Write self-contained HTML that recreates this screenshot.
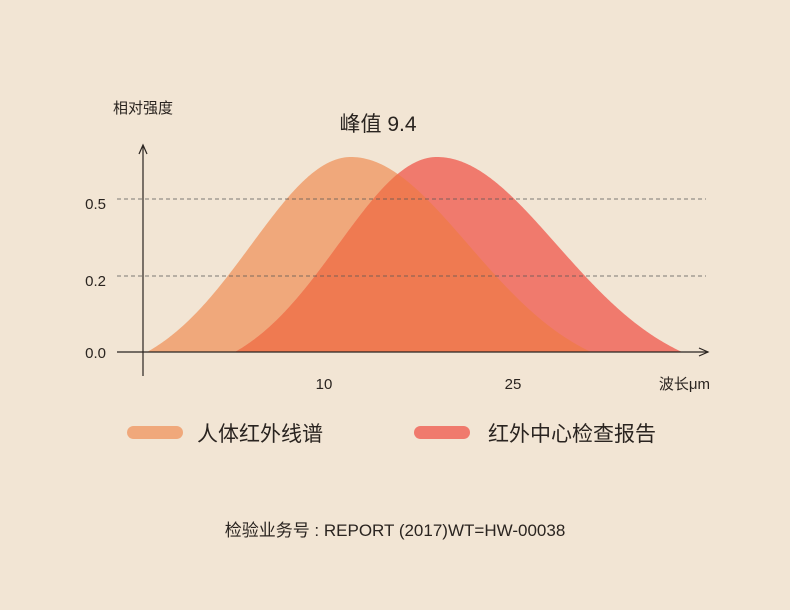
<!DOCTYPE html>
<html><head><meta charset="utf-8"><style>
body{margin:0;background:#F2E5D4;}
svg{display:block}
text{font-family:"Liberation Sans","Noto Sans CJK SC",sans-serif;fill:#2a2420}
</style></head><body>
<svg id="s" width="790" height="610" viewBox="0 0 790 610">
<rect width="790" height="610" fill="#F2E5D4"/>
<path id="o" fill="#F0A87B"/>
<path id="r" fill="#F07A6D"/>
<path id="m" fill="#EF7A51"/>
<line x1="117" y1="199" x2="706" y2="199" stroke="#555" stroke-width="0.8" stroke-dasharray="4,3"/>
<line x1="117" y1="276" x2="706" y2="276" stroke="#555" stroke-width="0.8" stroke-dasharray="4,3"/>
<line x1="143" y1="146" x2="143" y2="376" stroke="#2a2420" stroke-width="1.2"/>
<path d="M139,154 L143,145 L147,154" fill="none" stroke="#2a2420" stroke-width="1.2"/>
<line x1="117" y1="352" x2="708" y2="352" stroke="#2a2420" stroke-width="1.2"/>
<path d="M699,348 L708,352 L699,356" fill="none" stroke="#2a2420" stroke-width="1.2"/>
<text x="113" y="113" font-size="15">相对强度</text>
<text x="378" y="131" font-size="21" text-anchor="middle">峰值 9.4</text>
<text x="106" y="209" font-size="15" text-anchor="end">0.5</text>
<text x="106" y="286" font-size="15" text-anchor="end">0.2</text>
<text x="106" y="358" font-size="15" text-anchor="end">0.0</text>
<text x="324" y="389" font-size="15" text-anchor="middle">10</text>
<text x="513" y="389" font-size="15" text-anchor="middle">25</text>
<text x="710" y="389" font-size="15" text-anchor="end">波长μm</text>
<rect x="127" y="426" width="56" height="13" rx="6.5" fill="#F0A87B"/>
<text x="197" y="441" font-size="21">人体红外线谱</text>
<rect x="414" y="426" width="56" height="13" rx="6.5" fill="#F07A6D"/>
<text x="488" y="441" font-size="21">红外中心检查报告</text>
<text x="395" y="536" font-size="17" text-anchor="middle">检验业务号 : REPORT (2017)WT=HW-00038</text>
</svg>
<script>
var B=352,P=157;
function f(x,c,hl,hr){var d=x-c,h=d<0?hl:hr;if(Math.abs(d)>=h)return B;var s=h/2.05;var k=Math.exp(-Math.pow(h/s,2)/2);var g=(Math.exp(-d*d/(2*s*s))-k)/(1-k);return B-(B-P)*g;}
function o(x){return f(x,351,204,240);}function r(x){return f(x,437,202,245);}
function path(fn,a,b){var d="M"+a+","+B;for(var x=a;x<=b;x+=1)d+=" L"+x+","+fn(x).toFixed(2);return d+" L"+b+","+B+"Z";}
document.getElementById("o").setAttribute("d",path(o,147,591));
document.getElementById("r").setAttribute("d",path(r,235,682));
document.getElementById("m").setAttribute("d",path(function(x){return Math.max(o(x),r(x));},235,591));
</script>
</body></html>
